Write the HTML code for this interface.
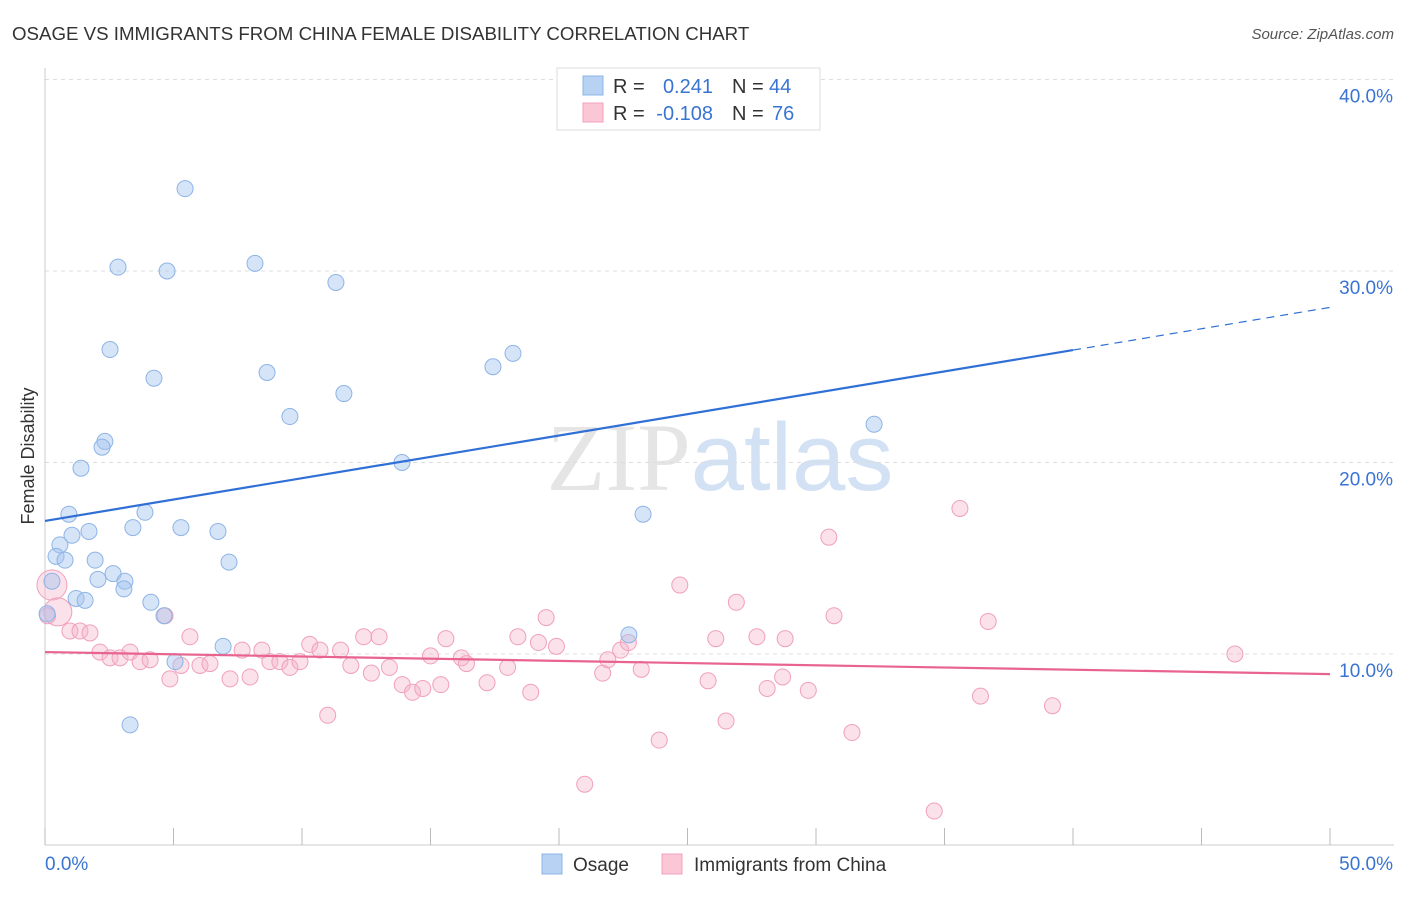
<!DOCTYPE html>
<html><head><meta charset="utf-8"><style>
body{margin:0;background:#fff;font-family:"Liberation Sans",sans-serif;}
svg text{font-family:"Liberation Sans",sans-serif;}
</style></head><body>
<svg id="chart" width="1406" height="892" xmlns="http://www.w3.org/2000/svg">
<text x="12" y="40" font-size="18.7" fill="#333">OSAGE VS IMMIGRANTS FROM CHINA FEMALE DISABILITY CORRELATION CHART</text>
<text x="1394" y="39" font-size="15" fill="#555" text-anchor="end" font-style="italic">Source: ZipAtlas.com</text>
<text x="720" y="490" font-size="96" text-anchor="middle" fill="#ccc" opacity="0.5"><tspan font-family="Liberation Serif">ZIP</tspan><tspan fill="#a9c4ea">atlas</tspan></text>
<g id="grid"></g>
<g id="axes"></g>
<g id="pts"></g>
<g id="trend"></g>
<text transform="translate(34,456) rotate(-90)" font-size="18" fill="#333" text-anchor="middle">Female Disability</text>
<g>
<rect x="557" y="68" width="263" height="62" fill="#fff" stroke="#ddd"/>
<rect x="583" y="76" width="20" height="19" fill="#b8d2f4" stroke="#8db4e6"/>
<rect x="583" y="103" width="20" height="19" fill="#fbc6d6" stroke="#f0a0bc"/>
<text x="613" y="93" font-size="20" fill="#333">R =</text>
<text x="713" y="93" font-size="20" fill="#3a74d2" text-anchor="end">0.241</text>
<text x="732" y="93" font-size="20" fill="#333">N =</text>
<text x="769" y="93" font-size="20" fill="#3a74d2">44</text>
<text x="613" y="120" font-size="20" fill="#333">R =</text>
<text x="713" y="120" font-size="20" fill="#3a74d2" text-anchor="end">-0.108</text>
<text x="732" y="120" font-size="20" fill="#333">N =</text>
<text x="772" y="120" font-size="20" fill="#3a74d2">76</text>
</g>
<g>
<rect x="542" y="854" width="20" height="20" fill="#b8d2f4" stroke="#8db4e6"/>
<text x="573" y="871" font-size="19" fill="#333">Osage</text>
<rect x="662" y="854" width="20" height="20" fill="#fbc6d6" stroke="#f0a0bc"/>
<text x="694" y="871" font-size="19" fill="#333">Immigrants from China</text>
</g>
</svg>
<script>
const xTicks=[0,5,10,15,20,25,30,35,40,45,50];
const yTicks=[10,20,30,40];
const osageX=[5.45,2.84,4.75,8.17,11.32,2.53,4.24,8.64,17.43,18.21,11.63,9.53,32.26,2.33,2.22,1.40,13.89,0.93,3.89,3.42,5.29,6.73,23.27,1.71,1.05,0.58,0.43,0.78,1.95,7.16,2.65,2.06,3.11,0.27,3.07,1.21,1.56,4.12,4.63,0.08,22.72,6.93,5.06,3.31];
const osageY=[34.3,30.2,30.0,30.4,29.4,25.9,24.4,24.7,25.0,25.7,23.6,22.4,22.0,21.1,20.8,19.7,20.0,17.3,17.4,16.6,16.6,16.4,17.3,16.4,16.2,15.7,15.1,14.9,14.9,14.8,14.2,13.9,13.8,13.8,13.4,12.9,12.8,12.7,12.0,12.1,11.0,10.4,9.6,6.3];
const chinaX=[0.27,0.5,4.67,0.97,1.36,1.75,5.64,2.14,2.53,2.92,3.31,3.70,4.09,4.86,5.29,6.03,6.42,7.2,7.67,7.98,8.44,8.75,9.14,9.53,9.92,10.3,10.7,11.5,11.9,11.0,12.4,13.0,12.7,13.4,13.9,14.3,14.7,15.0,15.4,15.6,16.2,16.4,17.2,18.0,18.4,18.9,19.2,19.5,19.9,21.0,21.7,21.9,22.4,22.7,23.2,23.9,24.7,25.8,26.1,26.5,26.9,27.7,28.1,28.7,28.8,29.7,30.5,30.7,31.4,34.6,35.6,36.4,36.7,39.2,46.3,0.1];
const chinaY=[13.6,12.2,12.0,11.2,11.2,11.1,10.9,10.1,9.8,9.8,10.1,9.6,9.7,8.7,9.4,9.4,9.5,8.7,10.2,8.8,10.2,9.6,9.6,9.3,9.6,10.5,10.2,10.2,9.4,6.8,10.9,10.9,9.0,9.3,8.4,8.0,8.2,9.9,8.4,10.8,9.8,9.5,8.5,9.3,10.9,8.0,10.6,11.9,10.4,3.2,9.0,9.7,10.2,10.6,9.2,5.5,13.6,8.6,10.8,6.5,12.7,10.9,8.2,8.8,10.8,8.1,16.1,12.0,5.9,1.8,17.6,7.8,11.7,7.3,10.0,12.0];
const chinaR=[15,14];
const osageTrend=[16.95,28.1];
const chinaTrend=[10.1,8.95];
const NS="http://www.w3.org/2000/svg";
const sx=v=>45+v*25.7, sy=v=>845.5-v*19.15;
function mk(t,a,p){const e=document.createElementNS(NS,t);for(const k in a)e.setAttribute(k,a[k]);p.appendChild(e);return e;}
const grid=document.getElementById('grid'),axes=document.getElementById('axes'),pts=document.getElementById('pts'),trend=document.getElementById('trend');
yTicks.forEach(v=>{const l=mk('line',{x1:45,x2:1394,y1:sy(v),y2:sy(v),stroke:'#ddd','stroke-dasharray':'4,4'},grid);


const t=mk('text',{x:1393,y:sy(v)+23,'font-size':19,fill:'#3a74d2','text-anchor':'end'},axes);t.textContent=v.toFixed(1)+'%';

});
mk('line',{x1:45,x2:45,y1:68,y2:845,stroke:'#ccc'},axes);
mk('line',{x1:45,x2:1394,y1:845,y2:845,stroke:'#ccc'},axes);
xTicks.forEach(v=>{const l=mk('line',{x1:sx(v),x2:sx(v),y1:828,y2:845,stroke:'#bbb'},axes);

});
let t0=mk('text',{x:45,y:870,'font-size':19,fill:'#3a74d2'},axes);t0.textContent=xTicks[0].toFixed(1)+'%';


let t1=mk('text',{x:1393,y:870,'font-size':19,fill:'#3a74d2','text-anchor':'end'},axes);t1.textContent=xTicks[xTicks.length-1].toFixed(1)+'%';


chinaX.forEach((x,i)=>{const c=mk('circle',{cx:sx(x),cy:sy(chinaY[i]),r:i<2?chinaR[i]:8,fill:'rgba(246,180,202,0.4)',stroke:'#f0a0bc','stroke-width':1},pts);

});
osageX.forEach((x,i)=>{const c=mk('circle',{cx:sx(x),cy:sy(osageY[i]),r:8,fill:'rgba(164,196,240,0.45)',stroke:'#8db4e6','stroke-width':1},pts);

});
const oy=x=>osageTrend[0]+(osageTrend[1]-osageTrend[0])*x/50;
let a=mk('line',{x1:sx(0),y1:sy(oy(0)),x2:sx(40),y2:sy(oy(40)),stroke:'#2f6fd6','stroke-width':2.2},trend);


let b=mk('line',{x1:sx(40),y1:sy(oy(40)),x2:sx(50),y2:sy(oy(50)),stroke:'#2f6fd6','stroke-width':1.2,'stroke-dasharray':'8,6'},trend);


let c=mk('line',{x1:sx(0),y1:sy(chinaTrend[0]),x2:sx(50),y2:sy(chinaTrend[1]),stroke:'#e8648e','stroke-width':2.2},trend);


</script>
</body></html>
